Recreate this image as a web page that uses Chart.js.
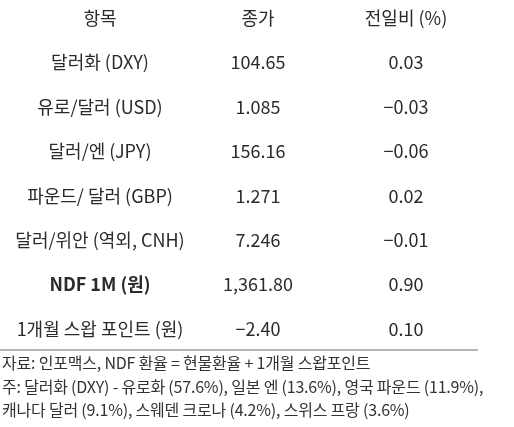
<!DOCTYPE html>
<html>
<head>
<meta charset="utf-8">
<script src="https://cdn.jsdelivr.net/npm/chart.js@4"></script>
<style>
  body { margin: 0; background: #fff; width: 514px; height: 427px; overflow: hidden; font-family: "Noto Sans CJK KR", sans-serif; }
  #wrap { position: relative; width: 514px; height: 355px; margin-top: -4px; }
  #rule { position: absolute; left: 0; top: 349px; width: 478px; height: 2px; background: #b5b5b5; }
  .note { position: absolute; left: 2px; font-size: 16px; color: #333; white-space: nowrap; letter-spacing: -0.2px; }
</style>
</head>
<body>
<div id="wrap"><canvas id="tbl"></canvas></div>
<div id="rule"></div>
<div class="note" style="top:350px">자료: 인포맥스, NDF 환율 = 현물환율 + 1개월 스왑포인트</div>
<div class="note" style="top:374px">주: 달러화 (DXY) - 유로화 (57.6%), 일본 엔 (13.6%), 영국 파운드 (11.9%),</div>
<div class="note" style="top:397px">캐나다 달러 (9.1%), 스웨덴 크로나 (4.2%), 스위스 프랑 (3.6%)</div>
<script>
const headers = ['항목', '종가', '전일비 (%)'];
const items = ['달러화 (DXY)', '유로/달러 (USD)', '달러/엔 (JPY)', '파운드/ 달러 (GBP)', '달러/위안 (역외, CNH)', 'NDF 1M (원)', '1개월 스왑 포인트 (원)'];
const closes = ['104.65', '1.085', '156.16', '1.271', '7.246', '1,361.80', '-2.40'];
const changes = ['0.03', '-0.03', '-0.06', '0.02', '-0.01', '0.90', '0.10'];
const boldRow = 'NDF 1M (원)';

const rows = ['header'].concat(items);
const colX = [100, 258, 406];

const textPlugin = {
    id: 'cells',
    afterDraw(chart) {
        const ctx = chart.ctx;
        const xs = chart.scales.x, ys = chart.scales.y;
        ctx.save();
        ctx.textAlign = 'center';
        ctx.textBaseline = 'middle';
        ctx.fillStyle = '#2b2b2b';
        rows.forEach((r, i) => {
            const y = ys.getPixelForValue(i);
            const cells = i === 0 ? headers : [items[i - 1], closes[i - 1], changes[i - 1]];
            cells.forEach((t, c) => {
                const bold = r === boldRow && c === 0;
                ctx.font = (bold ? 'bold ' : '') + '18px "Noto Sans CJK KR"';
                ctx.fillText(t.replace('-', '\u2212'), xs.getPixelForValue(colX[c]), y);
            });
        });
        ctx.restore();
    }
};

new Chart(document.getElementById('tbl'), {
    type: 'scatter',
    data: { labels: rows, datasets: [{ data: [] }] },
    options: {
        responsive: true,
        maintainAspectRatio: false,
        animation: false,
        layout: { padding: 0 },
        plugins: { legend: { display: false }, tooltip: { enabled: false } },
        scales: {
            x: { type: 'linear', min: 0, max: 514, display: false },
            y: { type: 'category', labels: rows, offset: true, display: false }
        }
    },
    plugins: [textPlugin]
});
</script>
</body>
</html>
